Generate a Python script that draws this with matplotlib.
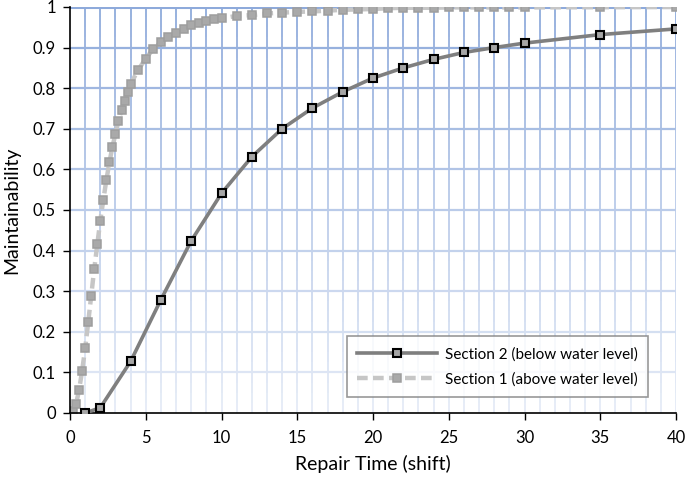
import numpy as np
import matplotlib
matplotlib.use("Agg")
import matplotlib.pyplot as plt
from matplotlib.collections import LineCollection
from matplotlib.colors import to_rgb

plt.rcParams['font.family'] = ['Lato', 'DejaVu Sans']

# Section 1 (above water level)
s1_time = [0, 0.2, 0.4, 0.6, 0.8, 1.0, 1.2, 1.4, 1.6, 1.8, 2.0, 2.2, 2.4, 2.6, 2.8,
           3.0, 3.2, 3.4, 3.6, 3.8, 4.0, 4.5, 5.0, 5.5, 6.0, 6.5, 7.0, 7.5, 8.0, 8.5,
           9.0, 9.5, 10, 11, 12, 13, 14, 15, 16, 17, 18, 19, 20, 21, 22, 23, 24, 25,
           26, 27, 28, 29, 30, 35, 40]
s1_maint = [0.0, 0.004, 0.022, 0.057, 0.104, 0.159, 0.223, 0.289, 0.355, 0.415, 0.474,
            0.525, 0.574, 0.617, 0.656, 0.687, 0.72, 0.746, 0.768, 0.79, 0.81, 0.845,
            0.873, 0.897, 0.913, 0.926, 0.937, 0.946, 0.956, 0.961, 0.966, 0.970, 0.972,
            0.978, 0.980, 0.984, 0.986, 0.988, 0.989, 0.991, 0.993, 0.994, 0.995, 0.997,
            0.998, 0.998, 0.998, 0.999, 0.999, 0.999, 0.999, 0.999, 0.999, 0.9995, 1.0]

# Section 2 (below water level)
s2_time = [1, 2, 4, 6, 8, 10, 12, 14, 16, 18, 20, 22, 24, 26, 28, 30, 35, 40]
s2_maint = [0.0, 0.013, 0.127, 0.279, 0.424, 0.541, 0.631, 0.700, 0.751, 0.791, 0.825,
            0.850, 0.871, 0.888, 0.900, 0.911, 0.932, 0.946]

fig = plt.figure(figsize=(6.85, 4.78), dpi=100)
ax = fig.add_axes([0.1022, 0.136, 0.8847, 0.8494])
ax.set_xlim(0, 40)
ax.set_ylim(0, 1)

# gradient grid: darker blue at top, fading toward the bottom
top_c = np.array(to_rgb('#8eaadb'))
bot_c = np.array(to_rgb('#e6ecf7'))
def grid_col(y):
    return tuple(bot_c + (top_c - bot_c) * y)

nseg = 40
ys = np.linspace(0, 1, nseg + 1)
segs, cols = [], []
for xv in range(1, 41):
    for i in range(nseg):
        segs.append([(xv, ys[i]), (xv, ys[i + 1])])
        cols.append(grid_col((ys[i] + ys[i + 1]) / 2))
ax.add_collection(LineCollection(segs, colors=cols, linewidths=1.3, zorder=0.5))
for yv in np.arange(0.1, 1.01, 0.1):
    ax.axhline(yv, color=grid_col(yv), lw=1.6, zorder=0.6)
ax.axhline(1.0, color='#8eaadb', lw=2.2, zorder=0.6)

ax.plot(s2_time, s2_maint, color='#7f7f7f', lw=2.6, marker='s', ms=5.6,
        mfc='#a6a6a6', mec='black', mew=1.5, zorder=3,
        label='Section 2 (below water level)')
ax.plot(s1_time, s1_maint, color='#c6c6c6', lw=3.2, dashes=(2.4, 1.2),
        marker='s', ms=5.8, mfc='#a9a9a9', mec='#9e9e9e', mew=1.1, zorder=2,
        label='Section 1 (above water level)')

for s in ['top', 'right']:
    ax.spines[s].set_visible(False)
for s in ['left', 'bottom']:
    ax.spines[s].set_color('black')
    ax.spines[s].set_linewidth(1.2)

ax.set_xticks(range(0, 41, 5))
ax.set_yticks(np.round(np.arange(0, 1.01, 0.1), 1))
ax.set_yticklabels(['0', '0.1', '0.2', '0.3', '0.4', '0.5', '0.6', '0.7', '0.8', '0.9', '1'])
ax.tick_params(direction='out', length=5, width=1, labelsize=12, colors='black')
ax.tick_params(axis='x', pad=7)
ax.tick_params(axis='y', pad=5)

ax.set_xlabel('Repair Time (shift)', fontsize=14, labelpad=7)
ax.set_ylabel('Maintainability', fontsize=14, labelpad=9)

leg = ax.legend(loc='lower right', bbox_to_anchor=(0.954, 0.039), fontsize=11,
                frameon=True, fancybox=False, edgecolor='#7f7f7f', handlelength=5.2,
                borderpad=0.7, labelspacing=0.7, handletextpad=0.5, borderaxespad=0)
leg.get_frame().set_linewidth(1.2)

fig.savefig('out.png', dpi=100)
